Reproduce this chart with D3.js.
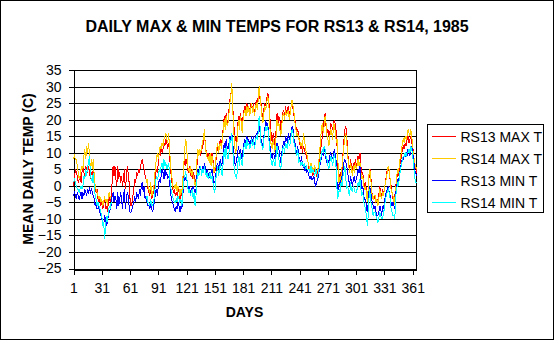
<!DOCTYPE html>
<html>
<head>
<meta charset="utf-8">
<script src="https://cdn.jsdelivr.net/npm/d3@7"></script>
<style>
  html, body { margin: 0; padding: 0; background: #fff; }
  svg { display: block; font-family: "Liberation Sans", Arial, sans-serif; }
</style>
</head>
<body>
<svg id="chart" width="554" height="340"></svg>
<script>
// Daily temperatures (deg C), days 1..365 of 1985; null = no reading
const rs13Max = [
  0, 2, 5, 4, 3, 1, 2, 3, 1, 4,
  6, 4, 3, 6, 5, 4, 6, 4, 2, 4,
  3, 5, 1, -1, -2, -1, -4, -5, -4, -6,
  -5, -7, -6, -4, -7, -6, -8, -5, -3, -5,
  -3, 1, 6, 3, 6, 2, 0, 6, 2, 4,
  1, 3, 0, 2, 5, -1, 2, 6, 4, 1,
  -4, -6, -5, -3, -1, 2, 1, 4, 3, 5,
  4, 6, 7, 8, 6, 5, 3, 2, 1, -1,
  -2, -3, -1, -4, -3, -2, 0, 3, 5, 4,
  7, 10, 9, 12, 10, 11, 13, 12, 14, 13,
  11, 13, 9, 5, 2, 0, -2, -1, -3, -2,
  -3, -1, -2, -4, -2, -3, 0, 5, 9, 6,
  8, 5, 4, 6, 3, 5, 2, 4, 3, 1,
  2, 6, 9, 10, 11, 9, 12, 11, 14, 16,
  12, 10, 9, 10, 8, 9, 7, 10, 8, 5,
  4, 7, 10, 12, 11, 13, 14, 12, 15, 18,
  21, 18, 22, 19, 20, 23, 26, 28, 29, 24,
  19, 15, 14, 13, 17, 21, 19, 22, 20, 18,
  21, 23, 24, 22, 25, 23, 24, 22, 25, 24,
  23, 25, 22, 24, 26, 24, 27, 29, 26, 25,
  22, 20, 23, 25, 24, 26, 28, 27, 23, 18,
  15, 13, 16, 14, 12, 17, 22, 19, 21, 20,
  17, 19, 22, 23, 21, 24, 22, 23, 24, 21,
  23, 24, 25, 23, 21, 20, 18, 16, 17, 15,
  13, 11, 12, 10, 12, 11, 10, 9, 8, 7,
  5, 4, 6, 5, 3, 4, 5, 4, 3, 4,
  5, 8, 11, 12, 15, 18, 20, 22, 18, 16,
  17, 15, 16, 19, 18, 17, 19, 20, 18, 16,
  10, 3, 1, 4, 2, 5, 10, 14, 17, 18,
  15, 10, 7, 5, 8, 6, 4, 7, 5, 8,
  6, 7, 9, 8, 10, 6, 3, 4, 1, 0,
  1, -2, -4, 0, 4, 5, 1, -3, -4, -3,
  -4, -5, -4, -5, -3, 0, -2, -3, -1, -2,
  -1, 1, 3, 5, 6, 4, 2, 0, -2, -4,
  -5, -3, 0, 2, 4, 3, 6, 7, 9, 11,
  12, 11, 13, 12, 14, 15, 13, 14, 15, 13,
  12, 9, 7, 6, 4
];
const rs14Max = [
  8, 9, 8, 8, 6, 4, 2, 3, 5, 6,
  5, 9, 11, 8, 12, 10, 13, 9, 5, 8,
  5, 8, 3, 0, -1, -2, -3, -4, -3, -5,
  -4, -6, -5, -3, -5, -4, -6, -3, -2, -4,
  -3, null, null, null, null, null, null, null, null, null,
  null, null, null, null, null, null, null, null, null, null,
  null, null, null, null, null, null, null, null, null, null,
  null, null, null, null, null, null, null, 1, 2, 0,
  -1, -2, 1, -3, -2, -1, 2, 6, 8, 10,
  8, 10, 12, 11, 13, 12, 14, 15, 16, 14,
  13, 16, 11, 6, 4, 1, -1, 0, -1, 1,
  -2, 0, -1, -3, -1, -2, 2, 6, 11, 14,
  13, 6, 5, 4, 6, 3, 5, 3, 2, 0,
  1, 8, 11, 9, 11, 10, 12, 13, 15, 17,
  11, 10, 8, 9, 7, 10, 6, 9, 7, 4,
  5, 8, 11, 13, 10, 12, 13, 11, 14, 17,
  20, 17, 21, 18, 19, 22, 25, 27, 31, 23,
  17, 12, 10, 11, 15, 20, 17, 21, 19, 16,
  20, 22, 23, 21, 24, 22, 24, 21, 23, 25,
  22, 24, 21, 23, 25, 23, 26, 30, 27, 24,
  21, 19, 22, 24, 23, 25, 27, 26, 21, 14,
  12, 11, 14, 12, 10, 15, 20, 18, 19, 17,
  15, 18, 21, 22, 20, 23, 21, 22, 23, 20,
  22, 24, 26, 24, 22, 19, 17, 15, 16, 14,
  14, 12, 13, 11, 16, 14, 12, 10, 9, 7,
  6, 5, 7, 6, 4, 5, 6, 5, 4, 5,
  6, 10, 13, 17, 19, 16, 18, 21, 19, 15,
  14, 12, 15, 17, 16, 14, 19, 18, 16, 13,
  14, 4, 0, 3, 1, 6, 9, 12, 15, 16,
  13, 9, 6, 4, 7, 5, 3, 6, 4, 7,
  5, 6, 8, 6, 7, 4, 2, 3, 0, -1,
  0, -3, -5, 1, 5, 4, 0, -3, -4, -3,
  -3, -5, -4, -6, -4, -1, -3, -4, -2, -3,
  -1, 1, 2, 4, 6, 5, 2, -1, -2, -3,
  -6, -4, -1, 3, 5, 4, 7, 9, 10, 13,
  14, 13, 15, 14, 15, 17, 16, 15, 17, 15,
  11, 9, 7, 6, 5
];
const rs13Min = [
  -3, -2, -3, -4, -2, -3, -4, -3, -2, -4,
  -2, -3, -1, -2, -3, -1, -2, -1, -2, -1,
  -2, -3, -4, -6, -5, -7, -7, -6, -8, -9,
  -10, -11, -12, -9, -10, -12, -11, -9, -8, -7,
  -6, -3, -2, -5, -3, -4, -7, -2, -6, -4,
  -2, -4, -7, -3, -1, -7, -4, -2, -3, -6,
  -8, -8, -7, -6, -5, -3, -5, -2, -3, -4,
  -1, -3, 0, 1, -2, 0, -4, -3, -5, -6,
  -6, -7, -5, -7, -8, -6, -5, -2, -1, -3,
  0, 2, 1, 3, 5, 4, 2, 5, 3, 4,
  2, 3, 1, -2, -4, -5, -6, -7, -8, -6,
  -7, -5, -6, -8, -6, -7, -3, 1, 3, 2,
  2, 1, -1, 0, -2, -1, -2, 0, -1, -2,
  -1, 3, 5, 4, 6, 5, 4, 6, 5, 7,
  5, 4, 5, 3, 4, 2, 4, 5, 3, 1,
  1, 3, 6, 7, 5, 7, 8, 6, 7, 10,
  13, 11, 14, 12, 11, 13, 15, 14, 16, 13,
  10, 7, 6, 8, 9, 12, 10, 11, 9, 8,
  11, 13, 14, 12, 15, 13, 14, 12, 13, 15,
  13, 15, 12, 14, 16, 15, 17, 19, 16, 14,
  13, 12, 15, 17, 20, 18, 19, 16, 13, 11,
  9, 8, 10, 9, 8, 11, 13, 12, 11, 9,
  7, 10, 12, 13, 12, 15, 14, 13, 16, 14,
  15, 16, 18, 17, 14, 13, 11, 10, 12, 9,
  8, 7, 9, 6, 6, 5, 6, 4, 5, 4,
  3, 2, 3, 2, 2, 3, 1, 0, 1, 2,
  3, 5, 7, 8, 10, 9, 11, 10, 8, 7,
  8, 7, 9, 10, 9, 8, 10, 11, 9, 7,
  -2, -1, 1, 0, 2, 3, 5, 7, 8, 7,
  6, 4, 2, 0, 3, 1, 0, 2, 3, 1,
  2, 3, 5, 4, 6, 2, -1, 0, -3, -4,
  -4, -7, -8, -4, 0, -1, -3, -5, -6, -7,
  -6, -8, -9, -9, -8, -6, -7, -9, -6, -7,
  -5, -3, -2, -1, 0, -2, -3, -5, -6, -5,
  -6, -7, -2, 0, 2, 1, 4, 5, 7, 8,
  8, 9, 9, 10, 9, 11, 10, 9, 11, 12,
  10, 8, 5, 4, 3
];
const rs14Min = [
  1, 2, 1, 0, -1, -1, -2, -1, 0, -1,
  0, 3, 2, 5, 3, 6, 7, 9, 3, 2,
  1, 4, 0, -3, -4, -6, -5, -6, -7, -8,
  -9, -12, -11, -16, -13, -9, -11, -8, -6, -7,
  -5, null, null, null, null, null, null, null, null, null,
  null, null, null, null, null, null, null, null, null, null,
  null, null, null, null, null, null, null, null, null, null,
  null, null, null, null, null, null, null, -4, -3, -5,
  -5, -6, -4, -6, -6, -5, -3, 1, 3, 2,
  3, 5, 4, 6, 7, 5, 8, 6, 7, 5,
  6, 7, 3, 0, -2, -3, -4, -5, -5, -4,
  -5, -3, -4, -5, -4, -6, -2, 2, 3, 4,
  3, 0, -2, -1, -3, -2, -1, -4, -2, -6,
  -3, 2, 4, 3, 5, 6, 3, 5, 4, 6,
  4, 3, 4, 2, 3, 4, 2, 3, 1, -1,
  -2, 2, 4, 6, 3, 5, 7, 4, 3, 8,
  11, 8, 12, 9, 8, 10, 14, 13, 16, 11,
  7, 4, 3, 2, 5, 9, 6, 10, 7, 6,
  9, 12, 13, 11, 14, 12, 13, 11, 12, 14,
  12, 14, 11, 13, 15, 14, 16, 21, 18, 13,
  12, 11, 14, 16, 18, 17, 18, 15, 12, 9,
  7, 6, 8, 7, 6, 9, 12, 10, 8, 6,
  5, 8, 11, 12, 10, 13, 12, 11, 14, 12,
  13, 15, 17, 16, 13, 12, 10, 9, 11, 7,
  8, 6, 7, 7, 6, 7, 5, 6, 5, 5,
  5, 4, 6, 4, 5, 4, 3, 5, 4, 3,
  4, 6, 8, 9, 11, 10, 12, 11, 9, 8,
  6, 5, 7, 9, 8, 6, 8, 10, 7, 5,
  -4, -3, -1, -2, 1, 0, 3, 4, 6, 2,
  -1, 0, -2, -3, 1, -1, -2, 0, -1, -2,
  -2, -1, 1, 0, 2, -1, -3, -2, -5, -6,
  -7, -10, -12, -8, -1, -3, -6, -7, -9, -8,
  -8, -9, -10, -11, -10, -8, -9, -10, -10, -8,
  -7, -4, -3, -2, -1, -2, -4, -7, -8, -9,
  -9, -10, -3, -1, 1, 0, 3, 5, 6, 8,
  9, 9, 10, 9, 10, 10, 11, 10, 12, 11,
  9, 6, 3, 1, 1
];

const seriesNames = ["RS13 MAX T", "RS14 MAX T", "RS13 MIN T", "RS14 MIN T"];
const seriesColors = ["#ff0000", "#ffcc00", "#0000ff", "#00ffff"];
const seriesValues = [rs13Max, rs14Max, rs13Min, rs14Min];

const dayTicks = [1, 31, 61, 91, 121, 151, 181, 211, 241, 271, 301, 331, 361];
const tempTicks = [-25, -20, -15, -10, -5, 0, 5, 10, 15, 20, 25, 30, 35];

const svg = d3.select("#chart");
const W = 554, H = 340;
const plot = { left: 73.5, right: 416.5, top: 70, bottom: 268.5 };

// outer frame
svg.append("rect").attr("x", 0.5).attr("y", 0.5).attr("width", W - 1).attr("height", H - 1)
  .attr("fill", "#fff").attr("stroke", "#000");

svg.append("text").attr("x", 277).attr("y", 32).attr("text-anchor", "middle")
  .attr("font-size", 16).attr("font-weight", "bold").text("DAILY MAX & MIN TEMPS FOR RS13 & RS14, 1985");

const x = d3.scaleLinear().domain([1, 365]).range([plot.left, plot.right]);
const y = d3.scaleLinear().domain([-25, 35]).range([plot.bottom, plot.top]);

// horizontal gridlines
svg.append("g").selectAll("line").data(tempTicks).join("line")
  .attr("x1", plot.left).attr("x2", plot.right)
  .attr("y1", d => Math.round(y(d)) + 0.5).attr("y2", d => Math.round(y(d)) + 0.5)
  .attr("stroke", "#000").attr("shape-rendering", "crispEdges");
// right edge of plot area
svg.append("line").attr("x1", plot.right).attr("x2", plot.right)
  .attr("y1", Math.round(plot.top) + 0.5).attr("y2", Math.round(plot.bottom) + 0.5)
  .attr("stroke", "#000").attr("shape-rendering", "crispEdges");

// y axis
const yAxis = d3.axisLeft(y).tickValues(tempTicks).tickSize(5).tickPadding(7).tickFormat(d3.format("d"));
const gy = svg.append("g").attr("transform", `translate(${plot.left},0)`).call(yAxis);
gy.selectAll("text").attr("font-size", 14).attr("font-family", "Liberation Sans, Arial, sans-serif")
  .attr("fill", "#000");
gy.selectAll("line, path").attr("stroke", "#000").attr("shape-rendering", "crispEdges");

// x axis
const xAxis = d3.axisBottom(x).tickValues(dayTicks).tickSize(5).tickPadding(9).tickSizeOuter(0);
const gx = svg.append("g").attr("transform", `translate(0,${Math.round(plot.bottom) + 0.5})`).call(xAxis);
gx.selectAll("text").attr("font-size", 14).attr("font-family", "Liberation Sans, Arial, sans-serif")
  .attr("fill", "#000");
gx.selectAll("line, path").attr("stroke", "#000").attr("shape-rendering", "crispEdges");

// axis titles
svg.append("text").attr("x", 244.5).attr("y", 317).attr("text-anchor", "middle")
  .attr("font-size", 14).attr("font-weight", "bold").text("DAYS");
svg.append("text").attr("transform", "translate(32.5,169) rotate(-90)").attr("text-anchor", "middle")
  .attr("font-size", 14).attr("font-weight", "bold").text("MEAN DAILY TEMP (C)");

// series lines
const line = d3.line()
  .defined(d => d.v !== null)
  .x(d => x(d.day))
  .y(d => y(d.v));

seriesValues.forEach((vals, i) => {
  const pts = vals.map((v, k) => ({ day: k + 1, v }));
  svg.append("path").datum(pts)
    .attr("d", line)
    .attr("fill", "none")
    .attr("stroke", seriesColors[i])
    .attr("stroke-width", 1)
    .attr("shape-rendering", "crispEdges");
});

// legend
const lg = svg.append("g");
lg.append("rect").attr("x", 427.5).attr("y", 124.5).attr("width", 116).attr("height", 88)
  .attr("fill", "#fff").attr("stroke", "#000");
const rowY = [136.5, 158.5, 180.5, 202.5];
seriesNames.forEach((name, i) => {
  lg.append("line").attr("x1", 432).attr("x2", 456).attr("y1", rowY[i]).attr("y2", rowY[i])
    .attr("stroke", seriesColors[i]).attr("shape-rendering", "crispEdges");
  lg.append("text").attr("x", 460.5).attr("y", rowY[i] + 5.3).attr("font-size", 14).text(name);
});
</script>
</body>
</html>
